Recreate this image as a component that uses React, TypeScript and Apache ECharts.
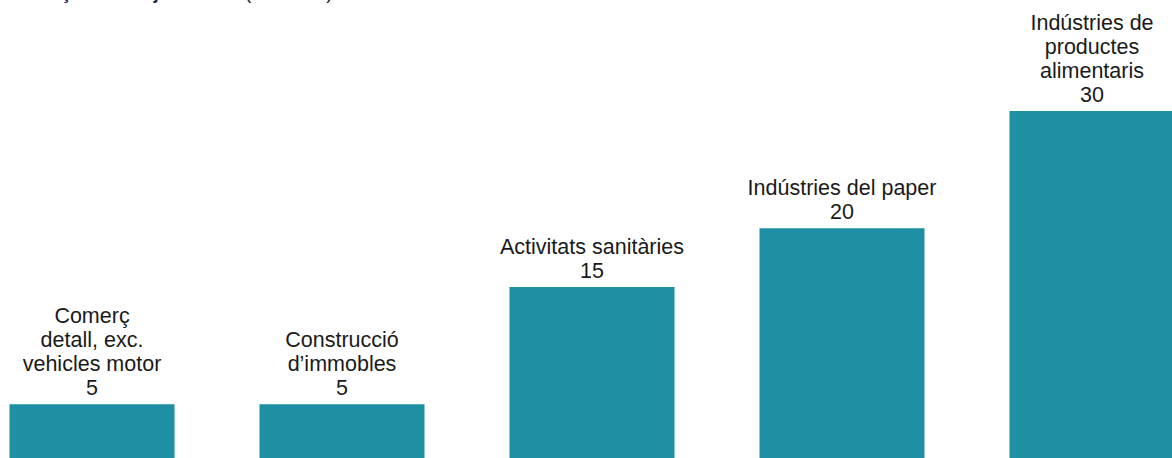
import React, { useEffect, useRef } from "react";
import * as echarts from "echarts";

const categories = [
  "Comerç\ndetall, exc.\nvehicles motor",
  "Construcció\nd’immobles",
  "Activitats sanitàries",
  "Indústries del paper",
  "Indústries de\nproductes\nalimentaris",
];
const values = [5, 5, 15, 20, 30];
const titleMain = "Finançament i ajuts";
const titleUnit = "(milions €)";

export default function App() {
  const ref = useRef<HTMLDivElement>(null);
  useEffect(() => {
    if (!ref.current) return;
    const chart = echarts.init(ref.current, undefined, { renderer: "svg" });
    chart.setOption({
      animation: false,
      backgroundColor: "#ffffff",
      grid: { left: 0, right: 0, top: 111, bottom: 0, containLabel: false },
      xAxis: {
        type: "category",
        data: categories,
        show: false,
        boundaryGap: true,
      },
      yAxis: { type: "value", min: 0, max: 30, show: false },
      graphic: [
        {
          type: "text",
          left: 43,
          top: -17,
          style: {
            text: titleMain,
            font: "bold 19px 'Liberation Sans', Arial, sans-serif",
            fill: "#1b2a5a",
          },
        },
        {
          type: "text",
          left: 278,
          top: -17,
          style: {
            text: titleUnit,
            font: "19px 'Liberation Sans', Arial, sans-serif",
            fill: "#222222",
          },
        },
      ],
      series: [
        {
          type: "bar",
          data: values,
          barWidth: 165,
          itemStyle: { color: "#1f8fa3" },
          label: {
            show: true,
            position: "top",
            distance: 4,
            formatter: (p: any) => `${p.name}\n${p.value}`,
            fontFamily: "'Liberation Sans', Arial, sans-serif",
            fontSize: 21.5,
            lineHeight: 24,
            color: "#1a1a1a",
            align: "center",
          },
        },
      ],
    });
    return () => chart.dispose();
  }, []);
  return (
    <div
      ref={ref}
      style={{ position: "fixed", left: -33, top: 0, width: 1250, height: 463 }}
    />
  );
}
